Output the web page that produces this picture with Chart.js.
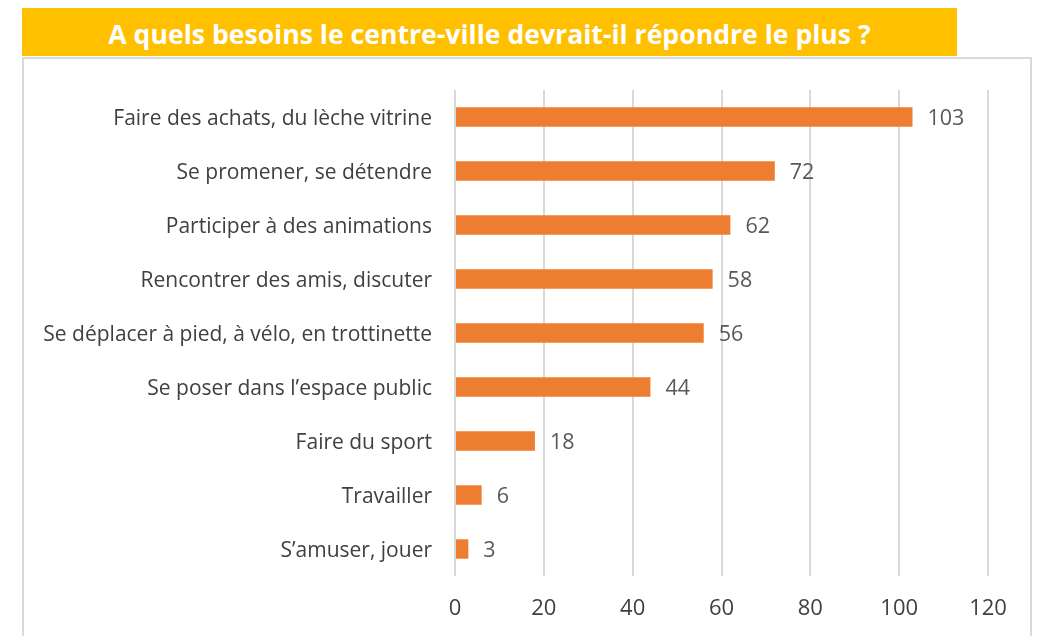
<!DOCTYPE html>
<html>
<head>
<meta charset="utf-8">
<script src="https://cdn.jsdelivr.net/npm/chart.js@4"></script>
<style>
  body { margin: 0; background: #fff; }
  #banner {
    position: absolute; left: 22px; top: 8px; width: 935px; height: 48px;
    background: #FFC000; color: #fff; text-align: center;
    font: bold 26.6px "Open Sans", sans-serif;
    line-height: 52px;
    overflow: hidden;
  }
  #cadre {
    position: absolute; left: 22px; top: 57px; width: 1006px; height: 590px;
    border: 2px solid #D9D9D9;
  }
  #zone { position: absolute; left: 0; top: 0; width: 1041px; height: 636px; }
</style>
</head>
<body>
<div id="banner">A quels besoins le centre-ville devrait-il répondre le plus ?</div>
<div id="cadre"></div>
<div id="zone"><canvas id="miGrafico"></canvas></div>
<script>
// Données du graphique
const categories = [
    "Faire des achats, du lèche vitrine",
    "Se promener, se détendre",
    "Participer à des animations",
    "Rencontrer des amis, discuter",
    "Se déplacer à pied, à vélo, en trottinette",
    "Se poser dans l’espace public",
    "Faire du sport",
    "Travailler",
    "S’amuser, jouer"
];
const valeurs = [103, 72, 62, 58, 56, 44, 18, 6, 3];
const ticksX = [0, 20, 40, 60, 80, 100, 120];

const police = "'Open Sans', sans-serif";

// Plugin pour écrire les valeurs au bout des barres
const etiquettes = {
    id: 'etiquettes',
    afterDatasetsDraw(chart) {
        const ctx = chart.ctx;
        const meta = chart.getDatasetMeta(0);
        ctx.save();
        ctx.font = "21.5px " + police;
        ctx.fillStyle = "#595959";
        ctx.textAlign = "left";
        ctx.textBaseline = "middle";
        meta.data.forEach(function (barre, i) {
            ctx.fillText(valeurs[i], barre.x + 15, barre.y + 2);
        });
        ctx.restore();
    }
};

const ctx = document.getElementById('miGrafico').getContext('2d');
new Chart(ctx, {
    type: 'bar',
    data: {
        labels: categories,
        datasets: [{
            data: valeurs,
            backgroundColor: '#ED7D31',
            categoryPercentage: 1,
            barPercentage: 0.36
        }]
    },
    options: {
        indexAxis: 'y',
        responsive: true,
        maintainAspectRatio: false,
        animation: false,
        layout: { padding: { top: 90, right: 53, left: 0, bottom: 0 } },
        plugins: {
            legend: { display: false },
            tooltip: { enabled: false }
        },
        scales: {
            x: {
                min: 0,
                max: 120,
                afterBuildTicks: function (axis) {
                    axis.ticks = ticksX.map(function (v) { return { value: v }; });
                },
                afterFit: function (axis) { axis.height = 60; },
                grid: { color: '#D9D9D9', lineWidth: 2, drawTicks: false },
                border: { display: false },
                ticks: { color: '#404040', font: { size: 22, family: police }, padding: 20 }
            },
            y: {
                afterFit: function (axis) { axis.width = 455; },
                grid: { display: false },
                border: { display: false },
                ticks: { color: '#404040', font: { size: 21, family: police }, padding: 15, labelOffset: 2 }
            }
        }
    },
    plugins: [etiquettes]
});
</script>
</body>
</html>
